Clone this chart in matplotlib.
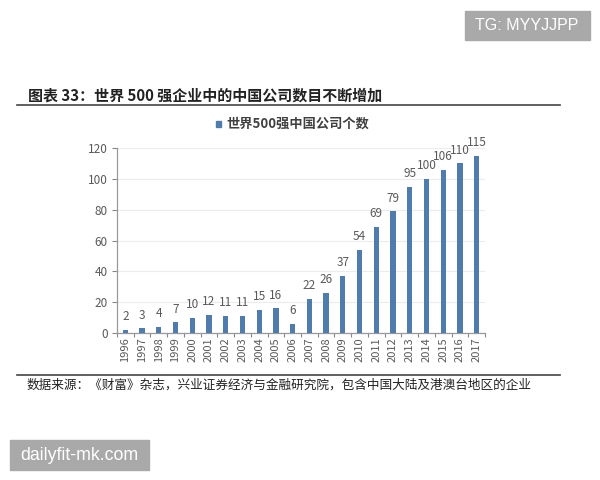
import matplotlib
matplotlib.use('Agg')
from matplotlib import pyplot as plt
from matplotlib.patches import Rectangle

plt.rcParams['font.family'] = ['Noto Sans CJK SC', 'DejaVu Sans']

years = ['1996', '1997', '1998', '1999', '2000', '2001', '2002', '2003', '2004', '2005', '2006',
         '2007', '2008', '2009', '2010', '2011', '2012', '2013', '2014', '2015', '2016', '2017']
counts = [2, 3, 4, 7, 10, 12, 11, 11, 15, 16, 6, 22, 26, 37, 54, 69, 79, 95, 100, 106, 110, 115]
yticks = [0, 20, 40, 60, 80, 100, 120]

title = '图表 33：世界 500 强企业中的中国公司数目不断增加'
legend_label = '世界500强中国公司个数'
source = '数据来源：《财富》杂志，兴业证券经济与金融研究院，包含中国大陆及港澳台地区的企业'
mark_top = 'TG: MYYJJPP'
mark_bottom = 'dailyfit-mk.com'

W, H = 600, 480
BAR_COLOR = '#4f7cac'
GREY = '#595959'


def px_x(x):
    return x / W


def px_y(y):
    return 1 - y / H


fig = plt.figure(figsize=(6, 4.8), dpi=100)

ax = fig.add_axes([px_x(117), px_y(333), (485 - 117) / W, (333 - 148) / H])
xs = list(range(len(years)))
ax.bar(xs, counts, width=0.32, color=BAR_COLOR, zorder=3)
ax.set_xlim(-0.5, len(years) - 0.5)
ax.set_ylim(0, 120)

ax.set_yticks(yticks)
ax.set_xticks(xs)
ax.set_xticklabels(years, rotation=90, fontsize=8, color=GREY)
ax.tick_params(axis='y', labelsize=8.5, labelcolor=GREY, color='#888888', length=3.5, width=0.8, pad=3)
ax.tick_params(axis='x', color='#888888', length=0, pad=3)
ax.grid(axis='y', color='#ececec', lw=0.8, zorder=0)

# ticks on the x axis sit between the bars
ax.set_xticks([x - 0.5 for x in xs] + [len(years) - 0.5], minor=True)
ax.tick_params(axis='x', which='minor', color='#888888', length=3, width=0.8)

for side in ('top', 'right'):
    ax.spines[side].set_visible(False)
for side in ('left', 'bottom'):
    ax.spines[side].set_color('#999999')
    ax.spines[side].set_linewidth(0.9)

for x, c in zip(xs, counts):
    ax.annotate(str(c), (x, c), xytext=(0, 4.8), textcoords='offset points', ha='center', va='bottom',
                fontsize=8.5, color=GREY, annotation_clip=False, zorder=4)

# legend drawn by hand so it lands where the original has it
fig.add_artist(Rectangle((px_x(216), px_y(127)), 5 / W, 6 / H, color=BAR_COLOR, transform=fig.transFigure))
fig.text(px_x(226), px_y(124), legend_label, fontsize=9.5, fontweight='bold', color='#404040', va='center', ha='left')

# report style heading and footer
fig.text(px_x(28), px_y(95.5), title, fontsize=10.8, fontweight='bold', color='#222222', va='center', ha='left')
fig.add_artist(plt.Line2D([px_x(17), px_x(560)], [px_y(105), px_y(105)], color='#444444', lw=1.2))
fig.add_artist(plt.Line2D([px_x(17), px_x(560)], [px_y(375), px_y(375)], color='#444444', lw=1.2))
fig.text(px_x(27), px_y(385), source, fontsize=9.1, color='#222222', va='center', ha='left')

# watermark boxes
fig.add_artist(Rectangle((px_x(465), px_y(40)), 125 / W, 29 / H, color='#a9a9a9', transform=fig.transFigure))
fig.text(px_x(527), px_y(25.5), mark_top, fontsize=11.5, color='white', va='center', ha='center',
         family=['Liberation Sans'])
fig.add_artist(Rectangle((px_x(10), px_y(470)), 139 / W, 30 / H, color='#a9a9a9', transform=fig.transFigure))
fig.text(px_x(79.5), px_y(455), mark_bottom, fontsize=12.8, color='white', va='center', ha='center',
         family=['Liberation Sans'])

fig.savefig('out.png', dpi=100)
